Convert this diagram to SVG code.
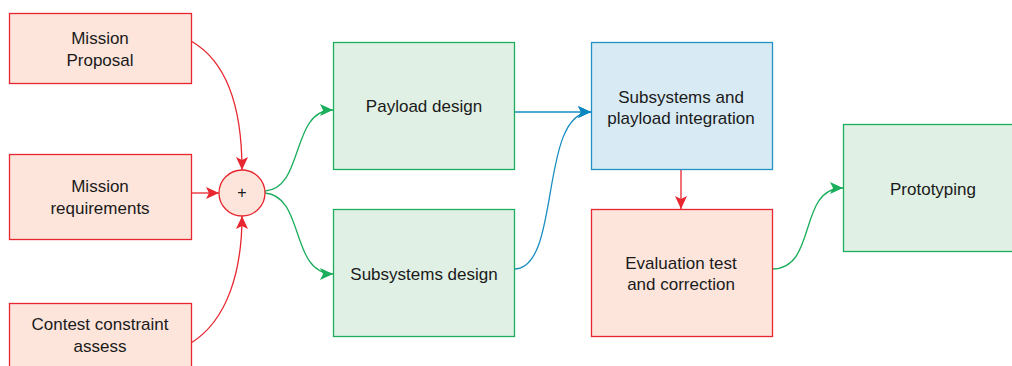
<svg xmlns="http://www.w3.org/2000/svg" width="1012" height="366" viewBox="0 0 1012 366">
<defs>
<style>
text{font-family:"Liberation Sans",Arial,sans-serif;font-size:17px;fill:#1a1a1a;text-anchor:middle}
.r{fill:#fde5dc;stroke:#e8262f;stroke-width:1.3}
.g{fill:#e0f0e4;stroke:#1bae5c;stroke-width:1.3}
.b{fill:#d8eaf4;stroke:#2391c4;stroke-width:1.3}
.lr{fill:none;stroke:#e8262f;stroke-width:1.3}
.lg{fill:none;stroke:#1bae5c;stroke-width:1.3}
.lb{fill:none;stroke:#1a8ec2;stroke-width:1.3}
</style>
<marker id="ar" markerUnits="userSpaceOnUse" markerWidth="14" markerHeight="12" refX="13" refY="6" orient="auto"><path d="M0,0 L13,6 L0,12 L3,6 Z" fill="#e8262f"/></marker>
<marker id="ag" markerUnits="userSpaceOnUse" markerWidth="14" markerHeight="12" refX="13" refY="6" orient="auto"><path d="M0,0 L13,6 L0,12 L3,6 Z" fill="#1bae5c"/></marker>
<marker id="ab" markerUnits="userSpaceOnUse" markerWidth="14" markerHeight="12" refX="13" refY="6" orient="auto"><path d="M0,0 L13,6 L0,12 L3,6 Z" fill="#0a86c0"/></marker>
</defs>
<g id="connectors">
<path class="lr" d="M191,41 C228,62 242,110 242,170" marker-end="url(#ar)"/>
<path class="lr" d="M191,193 L219,193" marker-end="url(#ar)"/>
<path class="lr" d="M191,343 C228,320 242,270 242,216" marker-end="url(#ar)"/>
<path class="lg" d="M265,191 C305,188 290,110 333,110" marker-end="url(#ag)"/>
<path class="lg" d="M265,193 C305,196 290,274 333,274" marker-end="url(#ag)"/>
<path class="lb" d="M514,112 L591,112" marker-end="url(#ab)"/>
<path class="lb" d="M514,269 C562,269 538,112 591,112" marker-end="url(#ab)"/>
<path class="lr" d="M681,169 L681,209" marker-end="url(#ar)"/>
<path class="lg" d="M772,269 C818,269 797,188 843,188" marker-end="url(#ag)"/>
</g>
<g id="mission-proposal"><rect class="r" x="9.5" y="13.5" width="182" height="70"/><text x="100" y="44">Mission</text><text x="100" y="66">Proposal</text></g>
<g id="mission-requirements"><rect class="r" x="9.5" y="154.5" width="182" height="85"/><text x="100" y="192">Mission</text><text x="100" y="214">requirements</text></g>
<g id="contest-constraint"><rect class="r" x="9.5" y="303.5" width="182" height="70"/><text x="100" y="330">Contest constraint</text><text x="100" y="352">assess</text></g>
<g id="sum"><circle class="r" cx="242" cy="193" r="23"/><text x="242" y="198" style="font-size:16px">+</text></g>
<g id="payload-design"><rect class="g" x="333.5" y="42.5" width="181" height="127"/><text x="424" y="112">Payload design</text></g>
<g id="subsystems-design"><rect class="g" x="333.5" y="209.5" width="181" height="127"/><text x="424" y="280">Subsystems design</text></g>
<g id="integration"><rect class="b" x="591.5" y="42.5" width="181" height="127"/><text x="681" y="103">Subsystems and</text><text x="681" y="124">playload integration</text></g>
<g id="evaluation"><rect class="r" x="591.5" y="209.5" width="181" height="127"/><text x="681" y="269">Evaluation test</text><text x="681" y="290">and correction</text></g>
<g id="prototyping"><rect class="g" x="843.5" y="124.5" width="181" height="127"/><text x="933" y="195">Prototyping</text></g>
</svg>
